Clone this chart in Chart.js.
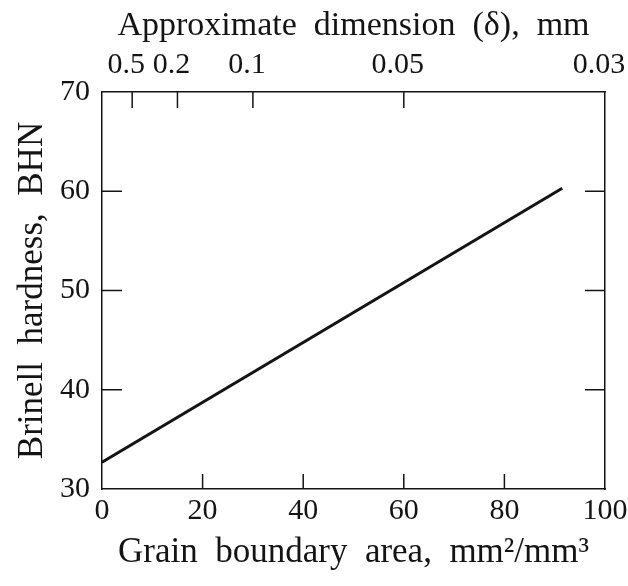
<!DOCTYPE html>
<html>
<head>
<meta charset="utf-8">
<script src="https://cdn.jsdelivr.net/npm/chart.js@4"></script>
<style>
  body { margin: 0; background: #fff; }
  canvas { display: block; }
</style>
</head>
<body>
<canvas id="hardnessChart" width="628" height="586"></canvas>
<script>
// grain boundary area (mm^2/mm^3) vs Brinell hardness
const boundaryArea = [0, 91.5];
const hardness = [32.7, 60.3];

// bottom axis ticks
const areaTicks = [0, 20, 40, 60, 80, 100];
// top axis: approximate grain dimension, placed on the area scale
const dimTickPos = [6, 15, 30, 60, 100];
const dimTickLabels = ['0.5', '0.2', '0.1', '0.05', '0.03'];
// left axis ticks
const hardnessTicks = [30, 40, 50, 60, 70];

const ink = '#141414';
const serif = "'Liberation Serif', 'DejaVu Serif', serif";

// short tick marks pointing into the plot box
const inwardTicks = {
    id: 'inwardTicks',
    afterDatasetsDraw(chart) {
        const ctx = chart.ctx;
        const area = chart.chartArea;
        const s = chart.scales;
        ctx.save();
        ctx.strokeStyle = ink;
        ctx.lineWidth = 1.5;
        ctx.beginPath();
        [20, 40, 60, 80].forEach(v => {
            const px = s.x.getPixelForValue(v);
            ctx.moveTo(px, area.bottom);
            ctx.lineTo(px, area.bottom - 15);
        });
        dimTickPos.slice(0, -1).forEach(v => {
            const px = s.x2.getPixelForValue(v);
            ctx.moveTo(px, area.top);
            ctx.lineTo(px, area.top + 16);
        });
        [40, 50, 60].forEach(v => {
            const py = s.y.getPixelForValue(v);
            ctx.moveTo(area.left, py);
            ctx.lineTo(area.left + 20, py);
            ctx.moveTo(area.right, py);
            ctx.lineTo(area.right - 20, py);
        });
        ctx.stroke();
        ctx.restore();
    }
};

// keep the plot box where the figure has it, labels may overhang the edges
function fixHeight(h) {
    return scale => {
        scale.height = h;
        scale.paddingLeft = 0;
        scale.paddingRight = 0;
    };
}

const ctx = document.getElementById('hardnessChart').getContext('2d');
new Chart(ctx, {
    type: 'line',
    data: {
        datasets: [{
            data: boundaryArea.map((x, i) => ({ x: x, y: hardness[i] })),
            borderColor: ink,
            borderWidth: 3,
            pointRadius: 0,
            fill: false,
            tension: 0
        }]
    },
    options: {
        responsive: false,
        animation: false,
        layout: { padding: 0 },
        plugins: {
            legend: { display: false },
            tooltip: { enabled: false }
        },
        scales: {
            x: {
                type: 'linear',
                position: 'bottom',
                min: 0,
                max: 100,
                afterBuildTicks: scale => { scale.ticks = areaTicks.map(v => ({ value: v })); },
                afterFit: fixHeight(97),
                grid: { display: false, drawTicks: false },
                border: { display: true, color: ink, width: 1.5 },
                ticks: {
                    color: ink,
                    font: { family: serif, size: 30 },
                    padding: 4,
                    maxRotation: 0,
                    autoSkip: false
                },
                title: {
                    display: true,
                    text: 'Grain  boundary  area,  mm²/mm³',
                    color: ink,
                    font: { family: serif, size: 35 },
                    padding: { top: 0, bottom: 12 }
                }
            },
            x2: {
                type: 'linear',
                position: 'top',
                min: 0,
                max: 100,
                afterBuildTicks: scale => { scale.ticks = dimTickPos.map(v => ({ value: v })); },
                afterFit: fixHeight(92),
                grid: { display: false, drawTicks: false },
                border: { display: true, color: ink, width: 1.5 },
                ticks: {
                    color: ink,
                    font: { family: serif, size: 30 },
                    padding: 9,
                    maxRotation: 0,
                    autoSkip: false,
                    labelOffset: -6,
                    callback: (value) => dimTickLabels[dimTickPos.indexOf(value)]
                },
                title: {
                    display: true,
                    text: 'Approximate  dimension  (δ),  mm',
                    color: ink,
                    font: { family: serif, size: 34 },
                    padding: { top: 6, bottom: 0 }
                }
            },
            y: {
                type: 'linear',
                position: 'left',
                min: 30,
                max: 70,
                afterBuildTicks: scale => { scale.ticks = hardnessTicks.map(v => ({ value: v })); },
                afterFit: scale => { scale.width = 102; },
                grid: { display: false, drawTicks: false },
                border: { display: true, color: ink, width: 1.5 },
                ticks: {
                    color: ink,
                    font: { family: serif, size: 30 },
                    padding: 12
                },
                title: {
                    display: true,
                    text: 'Brinell  hardness,  BHN',
                    color: ink,
                    font: { family: serif, size: 35 },
                    padding: { top: 12, bottom: 0 }
                }
            },
            y2: {
                type: 'linear',
                position: 'right',
                min: 30,
                max: 70,
                afterFit: scale => { scale.width = 23; },
                grid: { display: false, drawTicks: false },
                border: { display: true, color: ink, width: 1.5 },
                ticks: { display: false }
            }
        }
    },
    plugins: [inwardTicks]
});
</script>
</body>
</html>
